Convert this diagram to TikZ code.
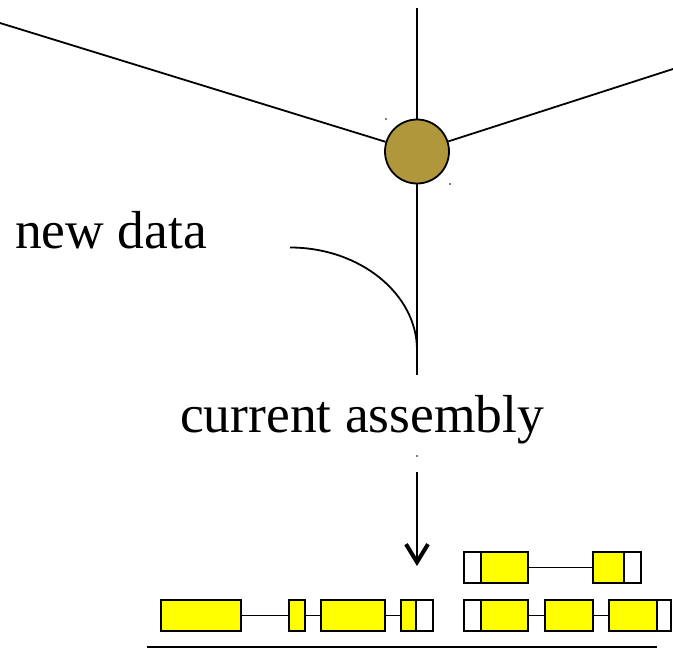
\documentclass[tikz,border=0pt]{standalone}
\usepackage{fontspec}
\setmainfont{Liberation Serif}
\usetikzlibrary{arrows.meta}
\definecolor{hubgold}{RGB}{176,151,59}
\definecolor{exonyellow}{RGB}{255,255,0}
\tikzset{
  wire/.style={line width=1.8pt, black},
  exon/.style={draw, line width=2.2pt, fill=exonyellow, inner sep=0pt, outer sep=0pt, minimum height=31pt},
  utr/.style={draw, line width=2.2pt, fill=white, inner sep=0pt, outer sep=0pt, minimum height=31pt},
  intron/.style={line width=1.5pt},
  label/.style={anchor=base west, inner sep=0pt, font=\fontsize{53.5}{56}\selectfont},
}
\begin{document}
\begin{tikzpicture}[x=1pt, y=-1pt]
\useasboundingbox (0,0) rectangle (673,648);

% tree node and its branches
\node[circle, draw, line width=1.8pt, fill=hubgold, minimum size=64pt, inner sep=0pt] (hub) at (417,151.5) {};
\coordinate (tl) at (0,23);
\coordinate (tr) at (673,69);
\coordinate (top) at (417,8);
\coordinate (bot) at (417,375);
\draw[wire] (tl) -- (hub);
\draw[wire] (tr) -- (hub);
\draw[wire] (top) -- (hub);
\draw[wire] (hub) -- (bot);

% incoming data branch
\coordinate (cs) at (290,247.5);
\coordinate (ce) at (417,350);
\draw[wire] (cs) .. controls (360,247.5) and (417,294) .. (ce);

% labels
\node[label] (newdata) at (15,248) {new data};
\node[label] (assembly) at (180,432) {current assembly};

% small marks
\fill (386,119) circle (0.8pt);
\fill (450,184) circle (0.8pt);
\fill (417,456) circle (0.9pt);

% arrow down to gene models
\coordinate (as) at (417,472);
\coordinate (ae) at (417,566);
\draw[wire, -{Straight Barb[length=18pt, width=22pt, line width=4pt]}] (as) -- (ae);

% lower gene model, left
\node[exon, minimum width=80pt] (a1) at (201,615.5) {};
\node[exon, minimum width=16pt] (a2) at (297,615.5) {};
\node[exon, minimum width=64pt] (a3) at (353,615.5) {};
\node[exon, minimum width=15pt] (a4) at (408.5,615.5) {};
\node[utr, minimum width=17pt, anchor=west] (a4u) at (a4.east) {};
\draw[intron] (a1.east) -- (a2.west);
\draw[intron] (a2.east) -- (a3.west);
\draw[intron] (a3.east) -- (a4.west);

% lower gene model, right
\node[utr, minimum width=17pt] (b0) at (472.5,615.5) {};
\node[exon, minimum width=47pt, anchor=west] (b1) at (b0.east) {};
\node[exon, minimum width=48pt] (b2) at (569,615.5) {};
\node[exon, minimum width=48pt] (b3) at (633,615.5) {};
\node[utr, minimum width=14pt, anchor=west] (b3u) at (b3.east) {};
\draw[intron] (b1.east) -- (b2.west);
\draw[intron] (b2.east) -- (b3.west);

% upper gene model, right
\node[utr, minimum width=17pt] (c0) at (472.5,567.5) {};
\node[exon, minimum width=47pt, anchor=west] (c1) at (c0.east) {};
\node[exon, minimum width=31pt] (c2) at (608.5,567.5) {};
\node[utr, minimum width=17pt, anchor=west] (c2u) at (c2.east) {};
\draw[intron] (c1.east) -- (c2.west);

% baseline
\coordinate (bl) at (147,647);
\coordinate (br) at (657,647);
\draw[line width=1.5pt] (bl) -- (br);
\end{tikzpicture}
\end{document}
